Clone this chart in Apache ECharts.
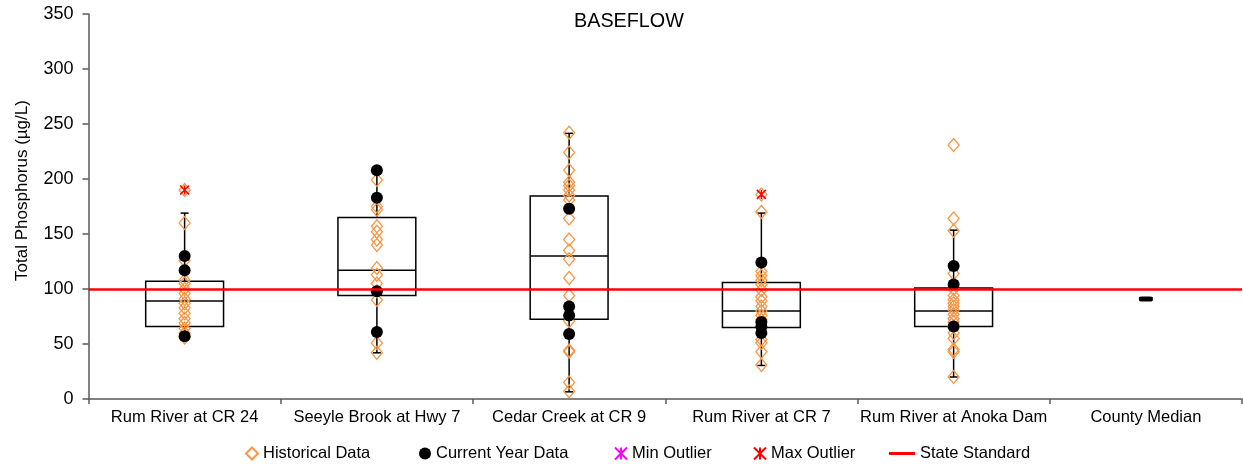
<!DOCTYPE html>
<html>
<head>
<meta charset="utf-8">
<script src="https://cdn.jsdelivr.net/npm/echarts@6/dist/echarts.min.js"></script>
<style>
  html, body { margin: 0; padding: 0; background: #fff; }
  #chart { width: 1243px; height: 466px; }
</style>
</head>
<body>
<div id="chart"></div>
<script>
// Monitoring sites along the category axis
const sites = ['Rum River at CR 24', 'Seeyle Brook at Hwy 7', 'Cedar Creek at CR 9',
               'Rum River at CR 7', 'Rum River at Anoka Dam', 'County Median'];

// Box summaries per site: [whisker low, Q1, median, Q3, whisker high] (µg/L)
const boxStats = [
  [57, 66, 89, 107, 169],
  [42, 94, 117, 165, 208],
  [6.5, 72.5, 130, 184.5, 241.5],
  [30.5, 65, 80, 106, 169],
  [20, 66, 80, 101, 153.5]
];

// Historical total phosphorus samples per site (µg/L)
const hist1 = [190, 160, 126, 108, 105, 100, 96, 91, 87, 83, 78, 73, 69, 64, 60, 56];
const hist2 = [199, 175, 172, 157, 152, 145, 140, 119, 113, 105, 98, 90, 51, 42];
const hist3 = [242, 224, 208, 197, 194, 190, 185, 181, 164, 145, 135, 127, 110, 94, 71, 44, 43, 15, 7];
const hist4 = [186, 170, 116, 112, 108, 104, 99, 93, 89, 84, 80, 76, 72, 54, 51, 43, 31];
const hist5 = [231, 164, 153, 114, 100, 94, 90, 87, 84, 81, 77, 73, 70, 66, 60, 55, 45, 43, 20];

// Current year samples per site (µg/L)
const cur1 = [130, 117, 57];
const cur2 = [208, 183, 98, 61];
const cur3 = [173, 84, 76, 59];
const cur4 = [124, 70, 66, 60];
const cur5 = [121, 104, 66];

// Outliers: [site index, value]
const maxOutliers = [[0, 190], [3, 186]];
const minOutliers = [];

// County-wide median and the state standard
const countyMedian = 91;
const stateStandard = 100;

// Y axis ticks
const yMin = 0, yMax = 350, yStep = 50;

const FONT = 'Liberation Sans, Arial, sans-serif';
const ORANGE = '#F79646';

function toPoints(lists) {
  const out = [];
  lists.forEach((vals, i) => vals.forEach(v => out.push([i, v])));
  return out;
}
const histPts = toPoints([hist1, hist2, hist3, hist4, hist5]);
const curPts = toPoints([cur1, cur2, cur3, cur4, cur5]);
const boxData = boxStats.map((s, i) => [i].concat(s));

const ASTERISK = 'path://M0,0L10,10M10,0L0,10M5,0L5,10';

function renderBox(params, api) {
  const i = api.value(0);
  const lo = api.coord([i, api.value(1)]);
  const q1 = api.coord([i, api.value(2)]);
  const md = api.coord([i, api.value(3)]);
  const q3 = api.coord([i, api.value(4)]);
  const hi = api.coord([i, api.value(5)]);
  const bw = api.size([1, 0])[0] * 0.405;
  const x = lo[0];
  const cap = 4;
  const st = { stroke: '#000', lineWidth: 1.5, fill: null };
  return {
    type: 'group',
    children: [
      { type: 'line', shape: { x1: x, y1: q3[1], x2: x, y2: hi[1] }, style: st },
      { type: 'line', shape: { x1: x, y1: q1[1], x2: x, y2: lo[1] }, style: st },
      { type: 'line', shape: { x1: x - cap, y1: hi[1], x2: x + cap, y2: hi[1] }, style: st },
      { type: 'line', shape: { x1: x - cap, y1: lo[1], x2: x + cap, y2: lo[1] }, style: st },
      { type: 'rect', shape: { x: x - bw / 2, y: q3[1], width: bw, height: q1[1] - q3[1] }, style: { stroke: '#000', lineWidth: 1.5, fill: 'rgba(0,0,0,0)' } },
      { type: 'line', shape: { x1: x - bw / 2, y1: md[1], x2: x + bw / 2, y2: md[1] }, style: st }
    ]
  };
}

const legendBase = {
  orient: 'horizontal',
  top: 440,
  itemWidth: 12,
  itemHeight: 12,
  itemGap: 0,
  selectedMode: false,
  textStyle: { fontFamily: FONT, fontSize: 16.5, color: '#000' }
};

const chart = echarts.init(document.getElementById('chart'), null, { renderer: 'canvas' });
chart.setOption({
  animation: false,
  backgroundColor: '#fff',
  title: {
    text: 'BASEFLOW',
    left: 569,
    top: 7,
    textStyle: { fontFamily: FONT, fontSize: 19.8, fontWeight: 'normal', color: '#000' }
  },
  legend: [
    Object.assign({}, legendBase, { left: 240, data: ['Historical Data'] }),
    Object.assign({}, legendBase, { left: 414, data: ['Current Year Data'] }),
    Object.assign({}, legendBase, { left: 609, data: ['Min Outlier'] }),
    Object.assign({}, legendBase, { left: 748, data: ['Max Outlier'] }),
    Object.assign({}, legendBase, {
      left: 884, itemWidth: 26, itemHeight: 3,
      data: [{ name: 'State Standard', icon: 'rect' }]
    })
  ],
  grid: { left: 88.5, right: 1, top: 14, bottom: 67, containLabel: false },
  xAxis: {
    type: 'category',
    data: sites,
    boundaryGap: true,
    axisLine: { lineStyle: { color: '#595959', width: 1.5 } },
    axisTick: { show: true, length: 5, interval: 0, lineStyle: { color: '#595959', width: 1.5 } },
    axisLabel: { interval: 0, margin: 10, fontFamily: FONT, fontSize: 16.5, color: '#000' },
    splitLine: { show: false }
  },
  yAxis: {
    type: 'value',
    min: yMin, max: yMax, interval: yStep,
    name: 'Total Phosphorus (µg/L)',
    nameLocation: 'middle',
    nameGap: 58,
    nameTextStyle: { fontFamily: FONT, fontSize: 17, color: '#000', padding: [0, 0, 0, 32] },
    axisLine: { show: true, lineStyle: { color: '#595959', width: 1.5 } },
    axisTick: { show: true, length: 6, lineStyle: { color: '#595959', width: 1.5 } },
    axisLabel: { margin: 15, fontFamily: FONT, fontSize: 18, color: '#000' },
    splitLine: { show: false }
  },
  series: [
    {
      name: 'Boxes',
      type: 'custom',
      renderItem: renderBox,
      data: boxData,
      z: 1,
      silent: true
    },
    {
      name: 'State Standard',
      type: 'line',
      data: [],
      symbol: 'none',
      itemStyle: { color: '#FF0000' },
      lineStyle: { color: '#FF0000', width: 3 },
      z: 2,
      markLine: {
        silent: true,
        symbol: 'none',
        label: { show: false },
        lineStyle: { color: '#FF0000', width: 2.5, type: 'solid' },
        data: [{ yAxis: stateStandard }]
      }
    },
    {
      name: 'Historical Data',
      type: 'scatter',
      data: histPts,
      symbol: 'diamond',
      symbolSize: [11, 13],
      itemStyle: { color: 'rgba(255,255,255,0)', borderColor: ORANGE, borderWidth: 1.3, opacity: 1 },
      z: 3
    },
    {
      name: 'Current Year Data',
      type: 'scatter',
      data: curPts,
      symbol: 'circle',
      symbolSize: 12,
      itemStyle: { color: '#000', opacity: 1 },
      z: 4
    },
    {
      name: 'Min Outlier',
      type: 'scatter',
      data: minOutliers,
      symbol: ASTERISK,
      symbolSize: 9,
      itemStyle: { color: 'rgba(0,0,0,0)', borderColor: '#FF00FF', borderWidth: 1.5, opacity: 1 },
      z: 5
    },
    {
      name: 'Max Outlier',
      type: 'scatter',
      data: maxOutliers,
      symbol: ASTERISK,
      symbolSize: 9,
      itemStyle: { color: 'rgba(0,0,0,0)', borderColor: '#FF0000', borderWidth: 1.5, opacity: 1 },
      z: 5
    },
    {
      name: 'County Median',
      type: 'scatter',
      data: [[5, countyMedian]],
      symbol: 'roundRect',
      symbolSize: [14, 5],
      itemStyle: { color: '#000', opacity: 1 },
      z: 4
    }
  ]
});
</script>
</body>
</html>
